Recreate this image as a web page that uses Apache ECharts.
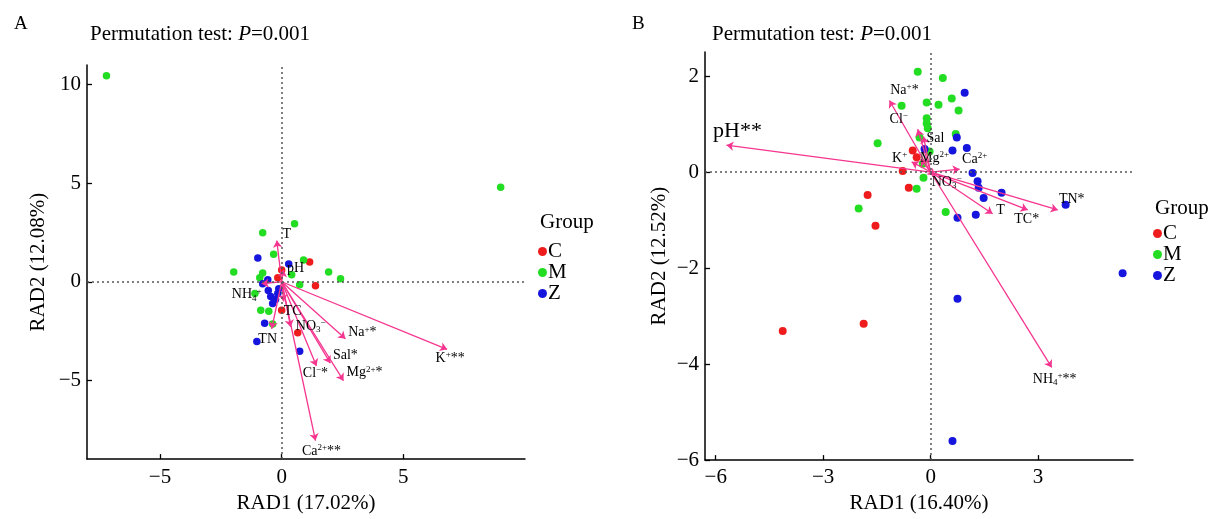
<!DOCTYPE html>
<html>
<head>
<meta charset="utf-8">
<title>RDA biplots</title>
<script src="https://cdn.jsdelivr.net/npm/echarts@6.0.0/dist/echarts.min.js"></script>
<style>
html,body{margin:0;background:#fff}
#main{width:1214px;height:519px}
</style>
</head>
<body>
<div id="main"></div>
<script>
// ---- panel A : sample scores ----
var aC = [[1.15,1.0],[0.0,0.6],[-0.16,0.2],[1.39,-0.2],[0.0,-1.44],[0.66,-2.59]];
var aM = [[-7.2,10.45],[9.0,4.8],[0.53,2.94],[-0.78,2.49],[-0.33,1.39],[0.9,1.1],[0.41,0.35],
          [-1.97,0.5],[-0.78,0.45],[-0.9,0.2],[1.93,0.5],[2.42,0.15],[0.74,-0.15],[-1.1,-0.6],
          [-0.86,-1.44],[-0.53,-1.5],[-0.37,-2.14]];
var aZ = [[-0.98,1.2],[0.29,0.9],[-0.57,0.1],[-0.78,-0.1],[-0.45,-0.75],[-0.25,-0.9],[-0.16,-0.6],
          [-0.37,-1.1],[-0.12,-0.35],[-0.7,-2.1],[-1.02,-3.03],[0.74,-3.53],[-0.55,-0.45]];
// environmental vectors (arrow tips)
var aVars = ['T','pH','NH{sb|4}{sp|+}','TC','TN','NO{sb|3}{sp|−}','Na{sp|+}*','K{sp|+}**',
             'Sal*','Cl{sp|−}*','Mg{sp|2+}*','Ca{sp|2+}**'];
var aTips = [[-0.2,2.09],[0.08,0.6],[-0.82,-0.1],[0.08,-1.0],[-0.41,-2.39],[0.37,-2.29],
             [2.62,-2.89],[6.8,-3.43],[2.0,-4.13],[1.43,-4.28],[2.54,-5.02],[1.39,-8.06]];
var aXTicks = [-5,0,5];
var aYTicks = [-5,0,5,10];

// ---- panel B ----
var bC = [[-0.5,0.45],[-0.39,0.31],[-0.78,0.02],[-0.61,-0.33],[-1.76,-0.48],[-1.54,-1.12],
          [-4.13,-3.31],[-1.87,-3.16]];
var bM = [[-0.36,2.09],[0.34,1.96],[-0.81,1.38],[-0.11,1.45],[0.22,1.4],[0.59,1.53],[0.78,1.28],
          [-0.11,1.12],[-0.11,1.01],[-0.08,0.91],[-1.48,0.6],[0.7,0.79],[-0.31,0.72],[-0.03,0.43],
          [-0.22,0.17],[-0.2,-0.12],[-0.39,-0.35],[0.42,-0.83],[-2.01,-0.76]];
var bZ = [[0.95,1.65],[0.73,0.72],[1.01,0.5],[0.61,0.45],[-0.17,0.48],[1.17,-0.02],[1.31,-0.19],
          [1.34,-0.33],[1.98,-0.43],[1.48,-0.54],[1.26,-0.89],[0.75,-0.95],[3.77,-0.68],
          [5.36,-2.11],[0.75,-2.64],[0.61,-5.6]];
var bVars = ['pH**','Na{sp|+}*','Cl{sp|−}','Sal','K{sp|+}','Mg{sp|2+}','Ca{sp|2+}',
             'NO{sb|3}{sp|−}','T','TC*','TN*','NH{sb|4}{sp|+}**'];
var bTips = [[-5.7,0.56],[-1.15,1.49],[-0.36,0.89],[-0.2,0.74],[-0.53,0.21],[-0.28,0.27],
             [0.81,0.06],[0.11,-0.08],[1.73,-0.87],[2.71,-0.79],[3.55,-0.79],[3.38,-4.07]];
var bXTicks = [-6,-3,0,3];
var bYTicks = [-6,-4,-2,0,2];

// label placement (pixel offsets from arrow tip)
var aLabelOffset = [[10,-6],[12,-2],[-15,11],[9,10],[-4,10],[20,-1],[17,-6],[3,9],[15,-8],[-1,7],[21,-8],[6,11]];
var bLabelOffset = [[11,-14],[15,-10],[-19,-10],[12,2],[-12,-4],[14,-1],[15,-10],[12,6],[8,-3],[-1,9],[14,-11],[3,12]];

var SERIF = "'Liberation Serif','DejaVu Serif',serif";
var PINK = '#f5358f';
var COLORS = {C:'#ee1c1c', M:'#22dd22', Z:'#1515dd'};
var INK = '#000';

function minus(v){ return String(v).replace('-', '\u2212'); }

function axis(idx, min, max, ticks, name, gap, margin) {
  return {
    type:'value', gridIndex:idx, min:min, max:max,
    name:name, nameLocation:'middle', nameGap:gap,
    nameTextStyle:{fontFamily:SERIF, fontSize:21, color:INK},
    axisLine:{show:true, onZero:false, lineStyle:{color:INK, width:1.5}},
    axisTick:{show:true, inside:true, length:5, customValues:ticks, lineStyle:{color:INK, width:1.3}},
    axisLabel:{customValues:ticks, formatter:minus, fontFamily:SERIF, fontSize:21, color:INK, margin:margin},
    splitLine:{show:false}
  };
}

var richLabel = {
  sp:{fontFamily:SERIF, fontSize:9, lineHeight:9, verticalAlign:'top', color:INK, textBorderWidth:0},
  sb:{fontFamily:SERIF, fontSize:9, lineHeight:9, verticalAlign:'bottom', color:INK, textBorderWidth:0}
};

function pointSeries(idx, name, data, size) {
  return {type:'scatter', name:name, xAxisIndex:idx, yAxisIndex:idx, data:data,
    symbolSize:size, itemStyle:{color:COLORS[name], opacity:1}, z:2, silent:true};
}
function arrowSeries(idx, tips) {
  return {type:'lines', coordinateSystem:'cartesian2d', xAxisIndex:idx, yAxisIndex:idx,
    symbol:['none','arrow'], symbolSize:7, z:3, silent:true,
    lineStyle:{color:PINK, width:1.3, opacity:1},
    data:tips.map(function(t){ return {coords:[[0,0], t]}; })};
}
function labelSeries(idx, vars, tips, offs, big) {
  return {type:'scatter', xAxisIndex:idx, yAxisIndex:idx, symbolSize:0, z:4, silent:true,
    itemStyle:{color:'rgba(0,0,0,0)'},
    data:tips.map(function(t,i){
      var item = {name:vars[i], value:t, label:{offset:offs[i]}};
      if (big && i === 0) item.label.fontSize = 22;
      return item;
    }),
    label:{show:true, position:'inside', fontFamily:SERIF, fontSize:14, lineHeight:16, color:INK,
      textBorderWidth:0, textBorderColor:'transparent', opacity:1,
      formatter:function(p){ return p.name; }, rich:richLabel},
    markLine:{silent:true, symbol:'none', label:{show:false},
      lineStyle:{color:'#555', type:[2,3], width:1.5},
      data:[{xAxis:0},{yAxis:0}]}
  };
}

function titleText(text, left, top, size) {
  return {text:text, left:left, top:top,
    textStyle:{fontFamily:SERIF, fontSize:size, fontWeight:'normal', color:INK,
      rich:{i:{fontFamily:SERIF, fontSize:size, fontStyle:'italic', color:INK}}}};
}
function legend(left, top) {
  return {left:left, top:top, orient:'vertical', data:['C','M','Z'], icon:'circle',
    itemWidth:9, itemHeight:9, itemGap:0, selectedMode:false,
    textStyle:{fontFamily:SERIF, fontSize:21, lineHeight:20, color:INK, padding:[0,0,0,-4]}};
}

var chart = echarts.init(document.getElementById('main'), null, {renderer:'canvas'});
chart.setOption({
  animation:false,
  backgroundColor:'#fff',
  title:[
    titleText('A', 9, 10, 19),
    titleText('B', 627, 10, 19),
    titleText('Permutation test: {i|P}=0.001', 85, 19, 21),
    titleText('Permutation test: {i|P}=0.001', 707, 19, 21),
    titleText('Group', 535, 207, 21),
    titleText('Group', 1150, 193, 21)
  ],
  legend:[legend(533, 236), legend(1148, 218)],
  grid:[
    {left:87, top:65, width:438, height:402},
    {left:705, top:52, width:428, height:409}
  ],
  xAxis:[
    axis(0, -8, 10, aXTicks, 'RAD1 (17.02%)', 30, 8),
    axis(1, -6.3, 5.65, bXTicks, 'RAD1 (16.40%)', 32, 7)
  ],
  yAxis:[
    axis(0, -9, 11, aYTicks, 'RAD2 (12.08%)', 38, 6),
    axis(1, -6, 2.5, bYTicks, 'RAD2 (12.52%)', 35, 6)
  ],
  series:[
    pointSeries(0, 'C', aC, 7.5),
    pointSeries(0, 'M', aM, 7.5),
    pointSeries(0, 'Z', aZ, 7.5),
    arrowSeries(0, aTips),
    labelSeries(0, aVars, aTips, aLabelOffset, false),
    pointSeries(1, 'C', bC, 8),
    pointSeries(1, 'M', bM, 8),
    pointSeries(1, 'Z', bZ, 8),
    arrowSeries(1, bTips),
    labelSeries(1, bVars, bTips, bLabelOffset, true)
  ]
});
</script>
</body>
</html>
